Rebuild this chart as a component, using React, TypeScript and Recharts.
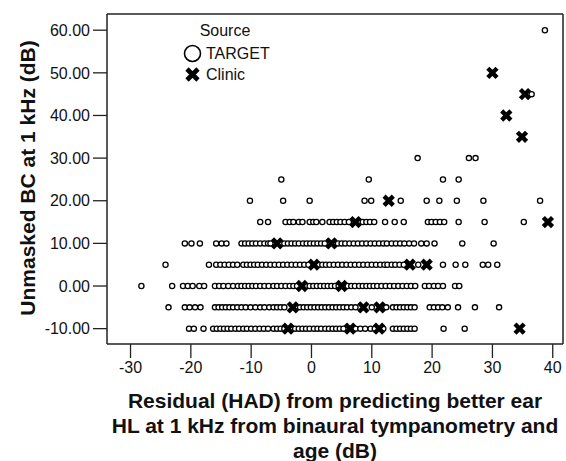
import { ScatterChart, Scatter, XAxis, YAxis, Legend, Label, ReferenceLine } from 'recharts';

const FONT = '"Liberation Sans", Arial, sans-serif';

const X_DOMAIN: [number, number] = [-33.9, 41.7];
const Y_DOMAIN: [number, number] = [-13.6, 63.8];
const X_TICKS = [-30, -20, -10, 0, 10, 20, 30, 40];
const Y_TICKS = [-10, 0, 10, 20, 30, 40, 50, 60];

// TARGET residuals, one list per unmasked BC level
const targetAtMinus10 = [-20.3, -19.5, -17.9, -16.3, -15.7, -15.1, -14.5, -13.9, -13.3, -12.6, -12.0, -11.3, -10.7, -10.0, -9.3, -8.6, -7.9, -7.2, -6.3, -5.7, -5.1, -4.5, -3.3, -2.7, -2.1, -1.5, -0.9, -0.3, 0.4, 1.0, 1.6, 2.3, 2.9, 3.5, 4.1, 4.7, 5.3, 7.3, 8.1, 8.9, 9.8, 10.5, 11.9, 13.5, 14.1, 14.7, 15.3, 15.9, 16.5, 17.1, 21.9, 25.4];
const targetAtMinus5 = [-23.7, -21.0, -20.2, -19.3, -18.4, -16.0, -15.4, -14.8, -14.2, -13.6, -13.0, -12.3, -11.6, -10.9, -10.1, -9.3, -8.5, -7.8, -7.0, -6.3, -5.7, -5.1, -4.5, -2.5, -1.9, -1.3, -0.7, -0.1, 0.5, 1.1, 1.7, 2.3, 2.9, 3.5, 4.1, 4.7, 5.3, 5.9, 6.6, 7.3, 10.0, 12.4, 13.5, 14.1, 14.7, 15.3, 15.9, 16.5, 17.1, 19.6, 20.3, 21.0, 21.7, 22.6, 24.3, 27.1, 31.1];
const targetAt0 = [-28.2, -23.1, -21.3, -20.5, -19.7, -18.6, -17.8, -16.0, -15.3, -14.6, -13.8, -13.0, -12.2, -11.6, -11.0, -10.4, -9.8, -9.2, -8.5, -7.8, -7.1, -6.3, -5.7, -5.0, -4.3, -3.6, -3.0, -2.4, -0.9, -0.3, 0.3, 0.9, 1.5, 2.1, 2.7, 3.3, 3.9, 4.5, 6.0, 6.6, 7.2, 7.9, 8.5, 9.1, 9.7, 10.3, 10.9, 11.6, 12.3, 13.0, 13.7, 14.4, 15.1, 15.8, 16.5, 17.2, 18.8, 19.5, 20.3, 21.0, 21.8, 23.8, 24.5];
const targetAt5 = [-24.2, -17.0, -15.8, -15.1, -14.4, -13.7, -13.0, -12.3, -11.3, -10.7, -10.1, -9.5, -8.9, -8.2, -7.5, -6.8, -6.1, -5.4, -4.7, -4.0, -3.3, -2.6, -1.9, -1.2, -0.5, 1.2, 1.8, 2.4, 3.0, 3.7, 4.4, 5.1, 5.8, 6.5, 7.2, 7.9, 8.6, 9.3, 10.0, 10.7, 11.4, 12.1, 12.6, 13.3, 13.9, 14.6, 15.3, 17.7, 21.8, 23.9, 25.5, 28.4, 29.3, 30.8];
const targetAt10 = [-21.0, -19.9, -18.5, -15.8, -14.9, -14.1, -11.6, -11.0, -10.4, -9.8, -9.2, -8.5, -7.8, -7.2, -6.8, -4.5, -3.9, -3.3, -2.7, -2.1, -1.4, -0.8, -0.2, 0.4, 1.0, 1.6, 2.2, 4.4, 5.0, 5.6, 6.3, 7.0, 7.7, 8.4, 9.1, 9.8, 10.5, 11.2, 11.9, 12.5, 13.3, 14.0, 14.7, 15.4, 16.2, 17.0, 18.2, 19.1, 20.4, 25.0, 30.2];
const targetAt15 = [-8.5, -7.2, -4.3, -3.6, -3.0, -2.1, -1.5, -0.3, 0.3, 0.8, 1.8, 3.0, 3.6, 4.2, 4.8, 5.5, 6.2, 8.5, 9.1, 9.7, 10.4, 12.2, 13.8, 15.3, 19.3, 19.9, 20.6, 21.3, 22.0, 24.4, 28.7, 35.2];
const targetAt20 = [-10.2, -4.7, -0.3, 8.8, 9.9, 14.8, 19.1, 21.2, 24.1, 28.5, 37.9];
const targetAt25 = [-5.0, 9.5, 21.8, 24.4];
const targetAt30 = [17.6, 26.1, 27.2];
const targetAt45 = [36.5];
const targetAt60 = [38.7];

// Clinic cases
const clinicX = [-3.9, 6.4, 11.2, 34.5, -3.1, 8.6, 11.3, -1.6, 5.0, 0.4, 16.3, 19.1, -5.7, 3.3, 7.3, 39.2, 12.8, 34.9, 32.3, 35.4, 30.0];
const clinicY = [-10, -10, -10, -10, -5, -5, -5, 0, 0, 5, 5, 5, 10, 10, 15, 15, 20, 35, 40, 45, 50];

const row = (y: number, xs: number[]) => xs.map((x) => ({ x, y }));

const targetData = [
  ...row(-10, targetAtMinus10),
  ...row(-5, targetAtMinus5),
  ...row(0, targetAt0),
  ...row(5, targetAt5),
  ...row(10, targetAt10),
  ...row(15, targetAt15),
  ...row(20, targetAt20),
  ...row(25, targetAt25),
  ...row(30, targetAt30),
  ...row(45, targetAt45),
  ...row(60, targetAt60),
];
const clinicData = clinicX.map((x, i) => ({ x, y: clinicY[i] }));

const Ring = (props: any) => (
  <circle cx={props.cx} cy={props.cy} r={2.6} fill="#fff" stroke="#000" strokeWidth={1.3} />
);

const Cross = (props: any) => {
  const { cx, cy } = props;
  const d = 4.6;
  return (
    <path
      d={`M${cx - d},${cy - d}L${cx + d},${cy + d}M${cx - d},${cy + d}L${cx + d},${cy - d}`}
      stroke="#000"
      strokeWidth={4.4}
      fill="none"
    />
  );
};

function SourceLegend() {
  return (
    <svg width={130} height={70} style={{ display: 'block' }}>
      <text x={45} y={12} textAnchor="middle" dominantBaseline="central" fontSize={16} fontFamily={FONT} fill="#111">
        Source
      </text>
      <circle cx={12.5} cy={35.5} r={8} fill="#fff" stroke="#000" strokeWidth={1.6} />
      <text x={26} y={35} dominantBaseline="central" fontSize={16} fontFamily={FONT} fill="#111">
        TARGET
      </text>
      <path d="M7,51L18,62M7,62L18,51" stroke="#000" strokeWidth={4.6} fill="none" />
      <text x={26} y={56} dominantBaseline="central" fontSize={16} fontFamily={FONT} fill="#111">
        Clinic
      </text>
    </svg>
  );
}

const xTitle = (props: any) => {
  const vb = props.viewBox;
  const cx = vb.x + vb.width / 2;
  const lines = [
    'Residual (HAD) from predicting better ear',
    'HL at 1 kHz from binaural tympanometry and',
    'age (dB)',
  ];
  return (
    <g>
      {lines.map((t, i) => (
        <text key={i} x={cx} y={vb.y + 64 + i * 25} textAnchor="middle" fontSize={21} fontWeight="bold" fontFamily={FONT} fill="#111">
          {t}
        </text>
      ))}
    </g>
  );
};

const yTitle = (props: any) => {
  const vb = props.viewBox;
  const cy = vb.y + vb.height / 2 - 1;
  return (
    <text
      x={27}
      y={cy}
      transform={`rotate(-90, 27, ${cy})`}
      textAnchor="middle"
      dominantBaseline="central"
      fontSize={21}
      fontWeight="bold"
      fontFamily={FONT}
      fill="#111"
    >
      Unmasked BC at 1 kHz (dB)
    </text>
  );
};

export default function App() {
  return (
    <div style={{ position: 'absolute', left: 0, top: 0, background: '#fff' }}>
      <ScatterChart width={566} height={461} margin={{ top: 14, right: 3, bottom: 0, left: 0 }}>
        <XAxis
          type="number"
          dataKey="x"
          domain={X_DOMAIN}
          ticks={X_TICKS}
          allowDataOverflow
          height={117}
          tickSize={14}
          tickMargin={4}
          tick={{ fill: '#111', fontSize: 16, fontFamily: FONT }}
          axisLine={{ stroke: '#222', strokeWidth: 1.5 }}
          tickLine={{ stroke: '#222', strokeWidth: 1.3 }}
        >
          <Label content={xTitle} />
        </XAxis>
        <YAxis
          type="number"
          dataKey="y"
          domain={Y_DOMAIN}
          ticks={Y_TICKS}
          allowDataOverflow
          width={107}
          tickSize={14}
          tickMargin={3}
          tickFormatter={(v: number) => v.toFixed(2)}
          tick={{ fill: '#111', fontSize: 16, fontFamily: FONT }}
          axisLine={{ stroke: '#222', strokeWidth: 1.5 }}
          tickLine={{ stroke: '#222', strokeWidth: 1.3 }}
        >
          <Label content={yTitle} />
        </YAxis>
        <ReferenceLine y={Y_DOMAIN[1]} stroke="#222" strokeWidth={1.5} />
        <ReferenceLine x={X_DOMAIN[1]} stroke="#222" strokeWidth={1.5} />
        <Legend
          layout="vertical"
          align="center"
          verticalAlign="middle"
          content={() => <SourceLegend />}
          wrapperStyle={{ position: 'absolute', left: 180, top: 18, width: 130, height: 70 }}
        />
        <Scatter name="TARGET" data={targetData} shape={Ring} isAnimationActive={false} />
        <Scatter name="Clinic" data={clinicData} shape={Cross} isAnimationActive={false} />
      </ScatterChart>
    </div>
  );
}
